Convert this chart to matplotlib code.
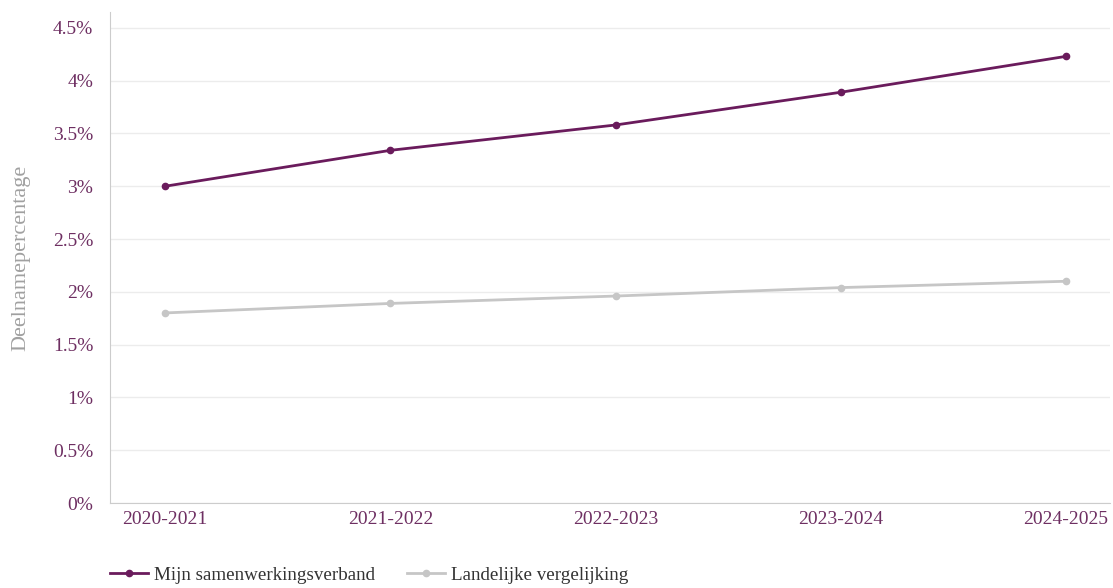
import numpy as np
import matplotlib.pyplot as plt

jaren = ["2020-2021", "2021-2022", "2022-2023", "2023-2024", "2024-2025"]
mijn_swv = [3.00, 3.34, 3.58, 3.89, 4.23]      # Mijn samenwerkingsverband
landelijk = [1.80, 1.89, 1.96, 2.04, 2.10]     # Landelijke vergelijking
yticks = [0, 0.5, 1, 1.5, 2, 2.5, 3, 3.5, 4, 4.5]

paars = "#6a1b5c"
grijs = "#c6c6c6"
tekst = "#6e2f62"

plt.rcParams['font.family'] = ['Liberation Serif', 'DejaVu Serif']

fig = plt.figure(figsize=(11.13, 5.88), dpi=100)
ax = fig.add_axes([110/1113, 85/588, 1000/1113, 491/588])

x = np.arange(len(jaren))
ax.plot(x, mijn_swv, color=paars, lw=2, marker='o', ms=4.5, label="Mijn samenwerkingsverband", zorder=3)
ax.plot(x, landelijk, color=grijs, lw=2, marker='o', ms=4.5, label="Landelijke vergelijking", zorder=2)

ax.set_xlim(-0.245, 4.195)
ax.set_ylim(0, 4.65)
ax.set_yticks(yticks)
ax.set_yticklabels([("%g" % v) + "%" for v in yticks])
ax.set_xticks(x)
ax.set_xticklabels(jaren)
ax.tick_params(axis='both', length=0, labelsize=14, colors=tekst)
ax.tick_params(axis='y', pad=12)
ax.tick_params(axis='x', pad=6)
ax.grid(axis='y', color='#ececec', lw=1)
ax.set_axisbelow(True)
for s in ['top', 'right']:
    ax.spines[s].set_visible(False)
ax.spines['left'].set_color('#cccccc')
ax.spines['bottom'].set_color('#cccccc')

ax.set_ylabel("Deelnamepercentage", fontsize=16, color='#a0a0a0', labelpad=16)

ax.legend(loc='upper left', bbox_to_anchor=(-0.017, -0.095), ncol=2, frameon=False,
          fontsize=13.7, handlelength=2.0, handletextpad=0.3, columnspacing=1.7,
          labelcolor='#333333')

plt.savefig("out.png", dpi=100)
